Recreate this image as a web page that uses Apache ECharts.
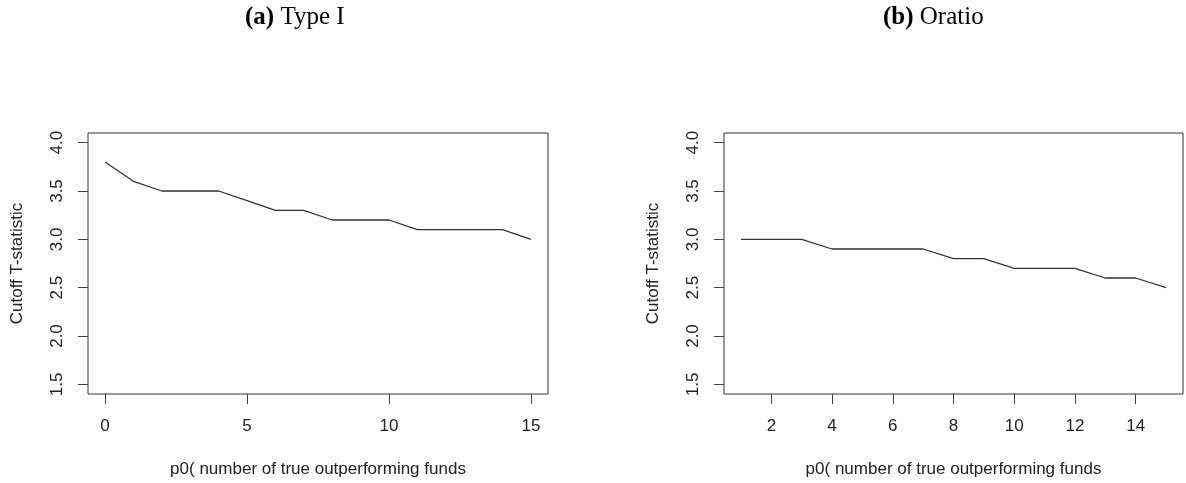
<!DOCTYPE html>
<html><head><meta charset="utf-8">
<script src="https://cdn.jsdelivr.net/npm/echarts@6/dist/echarts.min.js"></script>
<style>html,body{margin:0;padding:0;background:#fff}#c{width:1186px;height:483px}</style>
</head><body><div id="c"></div>
<script>
const typeIX = [0,1,2,3,4,5,6,7,8,9,10,11,12,13,14,15];
const typeIY = [3.8,3.6,3.5,3.5,3.5,3.4,3.3,3.3,3.2,3.2,3.2,3.1,3.1,3.1,3.1,3.0];
const oratioX = [1,2,3,4,5,6,7,8,9,10,11,12,13,14,15];
const oratioY = [3.0,3.0,3.0,2.9,2.9,2.9,2.9,2.8,2.8,2.7,2.7,2.7,2.6,2.6,2.5];
const yTicks = [1.5,2.0,2.5,3.0,3.5,4.0];
const xTicksA = [0,5,10,15];
const xTicksB = [2,4,6,8,10,12,14];
const yTitle = 'Cutoff T-statistic';
const xTitle = 'p0( number of true outperforming funds';
const headA = ['(a)', 'Type I'];
const headB = ['(b)', 'Oratio'];

const FONT = '"Liberation Sans", Arial, Helvetica, sans-serif';
const SERIF = '"Liberation Serif", "Times New Roman", serif';
const INK = '#222';

function xAxisDef(idx, min, max, ticks) {
  return {
    gridIndex: idx, type: 'value', min: min, max: max, position: 'bottom',
    axisLine: {show: false, onZero: false},
    splitLine: {show: false},
    axisTick: {show: true, length: 10, customValues: ticks, lineStyle: {color: '#444', width: 1}},
    axisLabel: {show: true, customValues: ticks, margin: 24, fontSize: 17, fontFamily: FONT, color: INK,
      formatter: v => String(v)},
    name: xTitle, nameLocation: 'middle', nameGap: 67,
    nameTextStyle: {fontSize: 17, fontFamily: FONT, color: INK}
  };
}
function yAxisDef(idx) {
  return {
    gridIndex: idx, type: 'value', min: 1.4, max: 4.1, position: 'left',
    axisLine: {show: false, onZero: false},
    splitLine: {show: false},
    axisTick: {show: true, length: 10, customValues: yTicks, lineStyle: {color: '#444', width: 1}},
    axisLabel: {show: true, customValues: yTicks, rotate: 90, margin: 22, fontSize: 17, fontFamily: FONT, color: INK,
      formatter: v => v.toFixed(1)},
    name: yTitle, nameLocation: 'middle', nameGap: 62, nameRotate: 90,
    nameTextStyle: {fontSize: 17, fontFamily: FONT, color: INK}
  };
}
function pairs(xs, ys) { return xs.map((x, i) => [x, ys[i]]); }

const chart = echarts.init(document.getElementById('c'), null, {renderer: 'canvas'});
chart.setOption({
  animation: false,
  backgroundColor: '#fff',
  grid: [
    {left: 88, top: 133, width: 460, height: 264, show: true, borderColor: '#333', borderWidth: 1, backgroundColor: 'transparent'},
    {left: 724, top: 133, width: 459, height: 264, show: true, borderColor: '#333', borderWidth: 1, backgroundColor: 'transparent'}
  ],
  xAxis: [xAxisDef(0, -0.6, 15.6, xTicksA), xAxisDef(1, 0.44, 15.56, xTicksB)],
  yAxis: [yAxisDef(0), yAxisDef(1)],
  series: [
    {type: 'line', xAxisIndex: 0, yAxisIndex: 0, data: pairs(typeIX, typeIY), showSymbol: false,
      lineStyle: {color: '#333', width: 1.3}},
    {type: 'line', xAxisIndex: 1, yAxisIndex: 1, data: pairs(oratioX, oratioY), showSymbol: false,
      lineStyle: {color: '#333', width: 1.3}}
  ],
  graphic: [
    {type: 'text', left: 245, top: 5, style: {text: '{b|' + headA[0] + '} ' + headA[1], fontFamily: SERIF, fontSize: 25, fill: '#000',
      rich: {b: {fontWeight: 'bold', fontFamily: SERIF, fontSize: 25, fill: '#000'}}}},
    {type: 'text', left: 883, top: 5, style: {text: '{b|' + headB[0] + '} ' + headB[1], fontFamily: SERIF, fontSize: 25, fill: '#000',
      rich: {b: {fontWeight: 'bold', fontFamily: SERIF, fontSize: 25, fill: '#000'}}}}
  ]
});
</script>
</body></html>
